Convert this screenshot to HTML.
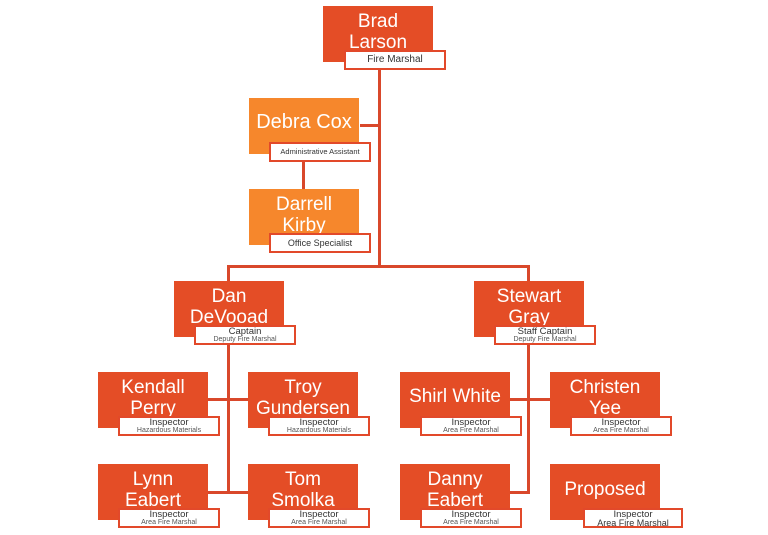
<!DOCTYPE html>
<html><head><style>
body{margin:0;width:768px;height:535px;background:#fff;position:relative;overflow:hidden;font-family:"Liberation Sans",sans-serif}
.b{position:absolute;width:110px;height:56px;background:#E44D26;color:#fff;text-align:center;font-size:19px;line-height:21px;box-sizing:border-box;padding-top:5px;overflow:hidden}
.o{background:#F6872C}
.l{position:absolute;width:102px;height:20px;background:#fff;border:2px solid #E2492A;box-sizing:border-box;text-align:center;color:#333;font-size:10px;line-height:16px}
.l2{line-height:9px;font-size:9.5px;padding-top:0}
.l2 span{display:block;font-size:7px;line-height:8px;color:#555}
.ln{position:absolute;background:#D9482B}
</style></head><body>
<div class="ln" style="left:378px;top:70px;width:3px;height:198px"></div>
<div class="ln" style="left:360px;top:124px;width:20px;height:3px"></div>
<div class="ln" style="left:302px;top:162px;width:3px;height:28px"></div>
<div class="ln" style="left:227px;top:265px;width:303px;height:3px"></div>
<div class="ln" style="left:227px;top:265px;width:3px;height:17px"></div>
<div class="ln" style="left:527px;top:265px;width:3px;height:17px"></div>
<div class="ln" style="left:227px;top:345px;width:3px;height:149px"></div>
<div class="ln" style="left:208px;top:398px;width:40px;height:3px"></div>
<div class="ln" style="left:208px;top:491px;width:40px;height:3px"></div>
<div class="ln" style="left:527px;top:345px;width:3px;height:149px"></div>
<div class="ln" style="left:510px;top:398px;width:40px;height:3px"></div>
<div class="ln" style="left:510px;top:491px;width:20px;height:3px"></div>

<div class="b" style="left:323px;top:6px">Brad<br>Larson</div>
<div class="l" style="left:344px;top:50px">Fire Marshal</div>
<div class="b o" style="left:249px;top:98px;padding-top:14px;font-size:20px">Debra Cox</div>
<div class="l" style="left:269px;top:142px;font-size:7.5px">Administrative Assistant</div>
<div class="b o" style="left:249px;top:189px">Darrell<br>Kirby</div>
<div class="l" style="left:269px;top:233px;font-size:9px">Office Specialist</div>

<div class="b" style="left:174px;top:281px">Dan<br>DeVooad</div>
<div class="l l2" style="left:194px;top:325px">Captain<span>Deputy Fire Marshal</span></div>
<div class="b" style="left:474px;top:281px">Stewart<br>Gray</div>
<div class="l l2" style="left:494px;top:325px">Staff Captain<span>Deputy Fire Marshal</span></div>

<div class="b" style="left:98px;top:372px">Kendall<br>Perry</div>
<div class="l l2" style="left:118px;top:416px">Inspector<span>Hazardous Materials</span></div>
<div class="b" style="left:248px;top:372px">Troy<br>Gundersen</div>
<div class="l l2" style="left:268px;top:416px">Inspector<span>Hazardous Materials</span></div>
<div class="b" style="left:400px;top:372px;padding-top:14px">Shirl White</div>
<div class="l l2" style="left:420px;top:416px">Inspector<span>Area Fire Marshal</span></div>
<div class="b" style="left:550px;top:372px">Christen<br>Yee</div>
<div class="l l2" style="left:570px;top:416px">Inspector<span>Area Fire Marshal</span></div>

<div class="b" style="left:98px;top:464px">Lynn<br>Eabert</div>
<div class="l l2" style="left:118px;top:508px">Inspector<span>Area Fire Marshal</span></div>
<div class="b" style="left:248px;top:464px">Tom<br>Smolka</div>
<div class="l l2" style="left:268px;top:508px">Inspector<span>Area Fire Marshal</span></div>
<div class="b" style="left:400px;top:464px">Danny<br>Eabert</div>
<div class="l l2" style="left:420px;top:508px">Inspector<span>Area Fire Marshal</span></div>
<div class="b" style="left:550px;top:464px;padding-top:15px">Proposed</div>
<div class="l l2" style="left:583px;top:508px;width:100px">Inspector<span style="font-size:9px;color:#333">Area Fire Marshal</span></div>
</body></html>
